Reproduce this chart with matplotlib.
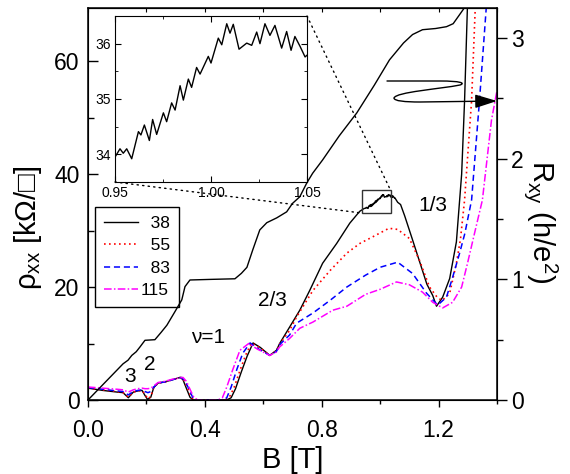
import numpy as np
import matplotlib
matplotlib.use("Agg")
from matplotlib import pyplot as plt
from matplotlib.ticker import MultipleLocator
from matplotlib.patches import Rectangle, ConnectionPatch, FancyArrowPatch
from matplotlib.path import Path

plt.rcParams['font.family'] = ['Liberation Sans', 'DejaVu Sans']
plt.rcParams['mathtext.fontset'] = 'custom'
plt.rcParams['mathtext.rm'] = 'Liberation Sans'
plt.rcParams['mathtext.it'] = 'Liberation Sans'

# rho_xx at 38 mK (low field part, then high field part; inset data joins them)
b38_lo = [0.0, 0.05, 0.10, 0.12, 0.138, 0.155, 0.17, 0.185, 0.195, 0.204, 0.215, 0.225, 0.24, 0.263,
          0.29, 0.315, 0.325, 0.335, 0.349, 0.36, 0.40, 0.475, 0.49, 0.505, 0.525, 0.545, 0.565, 0.59,
          0.622, 0.645, 0.656, 0.69, 0.725, 0.759, 0.803, 0.851, 0.896, 0.93, 0.945]
rho38_lo = [2.1, 1.7, 1.4, 1.3, 0.4, 1.4, 1.6, 1.7, 0.8, 0.1, 0.5, 2.2, 3.0, 3.2,
            3.6, 4.0, 3.6, 2.3, 0.5, 0.0, 0.0, 0.0, 0.4, 2.0, 5.0, 7.8, 10.1, 9.3,
            7.9, 8.8, 10.0, 12.9, 15.9, 19.4, 24.2, 27.7, 31.3, 33.4, 33.9]
b38_hi = [1.06, 1.07, 1.084, 1.11, 1.135, 1.16, 1.18, 1.193, 1.214, 1.238, 1.261, 1.279, 1.289, 1.299]
rho38_hi = [35.0, 34.6, 32.6, 28.5, 24.5, 20.5, 18.5, 16.6, 18.2, 21.5, 28.0, 40.0, 53.0, 70.0]

# inset: 38 mK trace around nu=1/3
inset_b = [0.950, 0.9526, 0.9543, 0.9561, 0.9587, 0.9622, 0.9635, 0.9653, 0.9679, 0.9696, 0.9717,
           0.9752, 0.9769, 0.9795, 0.9813, 0.9839, 0.9856, 0.9882, 0.9899, 0.9925, 0.9943, 0.9986,
           1.0000, 1.0038, 1.0056, 1.0082, 1.0099, 1.0116, 1.0146, 1.0186, 1.0212, 1.0238, 1.0255,
           1.0281, 1.0307, 1.0333, 1.0368, 1.0394, 1.0417, 1.0437, 1.0464, 1.0490, 1.0503]
inset_rho = [33.95, 34.10, 34.02, 34.10, 33.92, 34.41, 34.35, 34.53, 34.25, 34.63, 34.36,
             34.75, 34.59, 34.93, 34.80, 35.24, 34.98, 35.36, 35.21, 35.57, 35.45, 35.77,
             35.65, 36.10, 35.98, 36.36, 36.19, 36.35, 35.90, 36.01, 35.97, 36.21, 36.00,
             36.36, 36.15, 36.33, 35.92, 36.22, 35.88, 36.13, 35.95, 35.76, 35.80]

b55 = [0.0, 0.05, 0.10, 0.12, 0.138, 0.155, 0.17, 0.185, 0.195, 0.205, 0.215, 0.225, 0.24, 0.263,
       0.29, 0.317, 0.328, 0.34, 0.353, 0.364, 0.40, 0.468, 0.483, 0.50, 0.52, 0.54, 0.56, 0.59,
       0.622, 0.645, 0.656, 0.69, 0.714, 0.77, 0.83, 0.886, 0.93, 0.975, 1.03, 1.06, 1.10, 1.135,
       1.169, 1.195, 1.212, 1.238, 1.261, 1.275, 1.289, 1.313, 1.326]
rho55 = [2.1, 1.8, 1.5, 1.3, 0.5, 1.4, 1.6, 1.7, 1.0, 0.2, 0.6, 2.2, 3.0, 3.2,
         3.6, 4.0, 3.5, 2.2, 0.5, 0.0, 0.0, 0.0, 0.4, 2.2, 5.2, 8.0, 10.1, 9.2,
         7.9, 8.7, 9.9, 12.3, 14.7, 19.4, 23.0, 26.0, 27.7, 28.9, 30.4, 30.2, 28.6, 24.7,
         20.0, 18.2, 17.6, 18.9, 24.2, 28.5, 35.4, 53.0, 70.0]

b83 = [0.0, 0.05, 0.10, 0.12, 0.138, 0.155, 0.17, 0.185, 0.195, 0.205, 0.215, 0.225, 0.24, 0.263,
       0.29, 0.32, 0.332, 0.345, 0.358, 0.37, 0.40, 0.46, 0.475, 0.49, 0.51, 0.53, 0.555, 0.585,
       0.622, 0.645, 0.656, 0.69, 0.714, 0.77, 0.83, 0.886, 0.95, 1.0, 1.06, 1.111, 1.159,
       1.197, 1.227, 1.248, 1.272, 1.29, 1.313, 1.34, 1.364]
rho83 = [2.2, 1.9, 1.6, 1.5, 0.9, 1.5, 1.7, 1.8, 1.5, 1.3, 1.5, 2.3, 3.0, 3.2,
         3.6, 4.0, 3.4, 2.0, 0.5, 0.0, 0.0, 0.0, 0.4, 2.3, 5.5, 8.3, 10.1, 9.0,
         7.9, 8.6, 9.8, 11.5, 13.6, 15.4, 17.7, 20.0, 22.1, 23.5, 24.4, 22.4, 18.9,
         16.8, 18.2, 21.7, 26.0, 29.5, 35.4, 53.0, 70.0]

b115 = [0.0, 0.05, 0.10, 0.12, 0.138, 0.155, 0.17, 0.185, 0.195, 0.205, 0.215, 0.225, 0.24, 0.263,
        0.29, 0.325, 0.337, 0.35, 0.362, 0.375, 0.40, 0.445, 0.46, 0.475, 0.495, 0.52, 0.55, 0.58,
        0.622, 0.645, 0.656, 0.69, 0.725, 0.77, 0.838, 0.886, 0.95, 1.0, 1.056, 1.10, 1.145,
        1.18, 1.214, 1.248, 1.279, 1.299, 1.323, 1.35, 1.381, 1.40]
rho115 = [2.3, 2.1, 1.9, 1.8, 1.4, 1.8, 2.0, 2.1, 2.0, 2.0, 2.1, 2.5, 3.1, 3.3,
          3.7, 4.0, 3.3, 1.8, 0.5, 0.0, 0.0, 0.0, 0.4, 2.3, 5.3, 8.8, 10.0, 9.0,
          7.9, 8.5, 9.4, 10.9, 12.7, 13.8, 15.9, 16.6, 18.7, 19.6, 20.9, 20.4, 19.1,
          17.3, 16.3, 17.3, 20.0, 24.2, 29.5, 35.4, 49.5, 54.8]

# Hall resistance (h/e^2), 38 mK
hall_b = [0.0, 0.06, 0.12, 0.137, 0.15, 0.165, 0.178, 0.195, 0.229, 0.25, 0.27, 0.297, 0.321, 0.332,
          0.349, 0.42, 0.503, 0.525, 0.544, 0.564, 0.588, 0.612, 0.646, 0.68, 0.70, 0.725, 0.749,
          0.769, 0.803, 0.86, 0.92, 0.98, 1.032, 1.08, 1.111, 1.145, 1.19, 1.227, 1.25, 1.272,
          1.285, 1.296]
hall = [0.0, 0.15, 0.30, 0.33, 0.37, 0.40, 0.44, 0.495, 0.50, 0.56, 0.62, 0.73, 0.83, 0.94,
        0.995, 1.0, 1.005, 1.05, 1.10, 1.245, 1.41, 1.47, 1.51, 1.56, 1.63, 1.685, 1.80,
        1.88, 1.99, 2.19, 2.38, 2.61, 2.82, 2.96, 3.03, 3.07, 3.08, 3.095, 3.12, 3.195,
        3.24, 3.28]

labels = ['\u200738', '\u200755', '\u200783', '115']

fig = plt.figure(figsize=(5.7, 4.74), dpi=100)
ax = fig.add_axes([88 / 570, 1 - 400 / 474, 409 / 570, 392 / 474])

b38 = np.concatenate([b38_lo, inset_b, b38_hi])
rho38 = np.concatenate([rho38_lo, inset_rho, rho38_hi])
ax.plot(b38, rho38, color='black', lw=1.0, label=labels[0])
ax.plot(b55, rho55, color='red', lw=1.2, ls=(0, (1, 2)), label=labels[1])
ax.plot(b83, rho83, color='blue', lw=1.1, ls=(0, (4, 2.5)), label=labels[2])
ax.plot(b115, rho115, color='magenta', lw=1.1, ls=(0, (5, 1.5, 1, 1.5)), label=labels[3])

ax.set_xlim(0, 1.4)
ax.set_ylim(0, 69.4)
ax.xaxis.set_major_locator(MultipleLocator(0.4))
ax.xaxis.set_minor_locator(MultipleLocator(0.2))
ax.yaxis.set_major_locator(MultipleLocator(20))
ax.yaxis.set_minor_locator(MultipleLocator(10))
ax.xaxis.set_major_formatter(matplotlib.ticker.FormatStrFormatter('%.1f'))
ax.tick_params(axis='x', which='major', direction='out', length=5, width=1, labelsize=16.5, pad=9)
ax.tick_params(axis='x', which='minor', direction='out', length=3, width=1)
ax.tick_params(axis='y', which='major', direction='in', length=7, width=1, labelsize=16.5, pad=6)
ax.tick_params(axis='y', which='minor', direction='in', length=4, width=1)
for sp in ax.spines.values():
    sp.set_linewidth(1.1)

top = ax.secondary_xaxis('top')
top.xaxis.set_major_locator(MultipleLocator(0.2))
top.tick_params(direction='in', length=3, labeltop=False)

ax.set_xlabel('B [T]', fontsize=21, va='center')
ax.xaxis.set_label_coords(0.5, -0.153)
ax.set_ylabel('\u03c1$_{\\mathregular{xx}}$ [k\u03a9/\u25a1]', fontsize=21, va='center')
ax.yaxis.set_label_coords(-0.147, 0.44)

# filling factor labels
ax.text(0.144, 4.1, '3', fontsize=15, ha='center', va='center')
ax.text(0.212, 6.2, '2', fontsize=15, ha='center', va='center')
ax.text(0.41, 11.1, '\u03bd=1', fontsize=15, ha='center', va='center')
ax.text(0.632, 17.7, '2/3', fontsize=15, ha='center', va='center')
ax.text(1.179, 34.5, '1/3', fontsize=15, ha='center', va='center')

leg = ax.legend(loc='upper left', bbox_to_anchor=(0.017, 0.492), borderaxespad=0, fontsize=12.5,
                fancybox=False, edgecolor='black', framealpha=1, handlelength=2.0,
                handletextpad=0.15, labelspacing=0.42, borderpad=0.5)
leg.get_frame().set_linewidth(1.0)

# zoom box
ax.add_patch(Rectangle((0.937, 33.1), 0.099, 4.0, fill=False, edgecolor='#333333', lw=1.0, zorder=5))

# Hall axis
ax2 = ax.twinx()
ax2.plot(hall_b, hall, color='black', lw=1.0)
ax2.set_ylim(0, 3.25)
ax2.yaxis.set_major_locator(MultipleLocator(1))
ax2.yaxis.set_minor_locator(MultipleLocator(0.5))
ax2.tick_params(axis='y', which='major', direction='out', length=7, width=1, labelsize=16.5, pad=3)
ax2.tick_params(axis='y', which='minor', direction='out', length=4, width=1)
ax2.set_ylabel('R$_{\\mathregular{xy}}$ (h/e$^{\\mathregular{2}}$)', fontsize=21, rotation=270, va='center')
ax2.yaxis.set_label_coords(1.108, 0.455)

# inset
axins = fig.add_axes([115 / 570, 1 - 182 / 474, 192 / 570, 166 / 474])
axins.plot(inset_b, inset_rho, color='black', lw=1.0)
axins.set_xlim(0.95, 1.05)
axins.set_ylim(33.5, 36.5)
axins.xaxis.set_major_locator(MultipleLocator(0.05))
axins.xaxis.set_minor_locator(MultipleLocator(0.025))
axins.yaxis.set_major_locator(MultipleLocator(1))
axins.yaxis.set_minor_locator(MultipleLocator(0.5))
axins.xaxis.set_major_formatter(matplotlib.ticker.FormatStrFormatter('%.2f'))
axins.tick_params(which='both', direction='in', top=True, right=True, labelsize=10, pad=3)
axins.tick_params(which='major', length=4)
axins.tick_params(which='minor', length=2.5)

for xy_a, xy_b in [((0, 0), (0.937, 33.1)), ((1, 1), (1.036, 37.1))]:
    con = ConnectionPatch(xyA=xy_a, coordsA=axins.transAxes, xyB=xy_b, coordsB=ax.transData,
                          ls=(0, (1, 3)), color='black', lw=1.0)
    fig.add_artist(con)

# arrow pointing to the Hall axis (pixel coords -> figure fraction)
pts = [(387, 81), (440, 81), (460, 81), (466, 83), (460, 85), (440, 89), (396, 92), (394, 98),
       (394, 101), (405, 102), (420, 102), (497, 101)]
codes = [Path.MOVETO, Path.LINETO, Path.CURVE4, Path.CURVE4, Path.CURVE4, Path.CURVE4, Path.CURVE4,
         Path.CURVE4, Path.CURVE4, Path.CURVE4, Path.CURVE4, Path.LINETO]
verts = [(x / 570, 1 - y / 474) for x, y in pts]
arrow = FancyArrowPatch(path=Path(verts, codes), arrowstyle='-|>,head_length=0.9,head_width=0.28',
                        mutation_scale=15, color='black', lw=1.0, transform=fig.transFigure)
fig.add_artist(arrow)

plt.savefig('out.png', dpi=100)
